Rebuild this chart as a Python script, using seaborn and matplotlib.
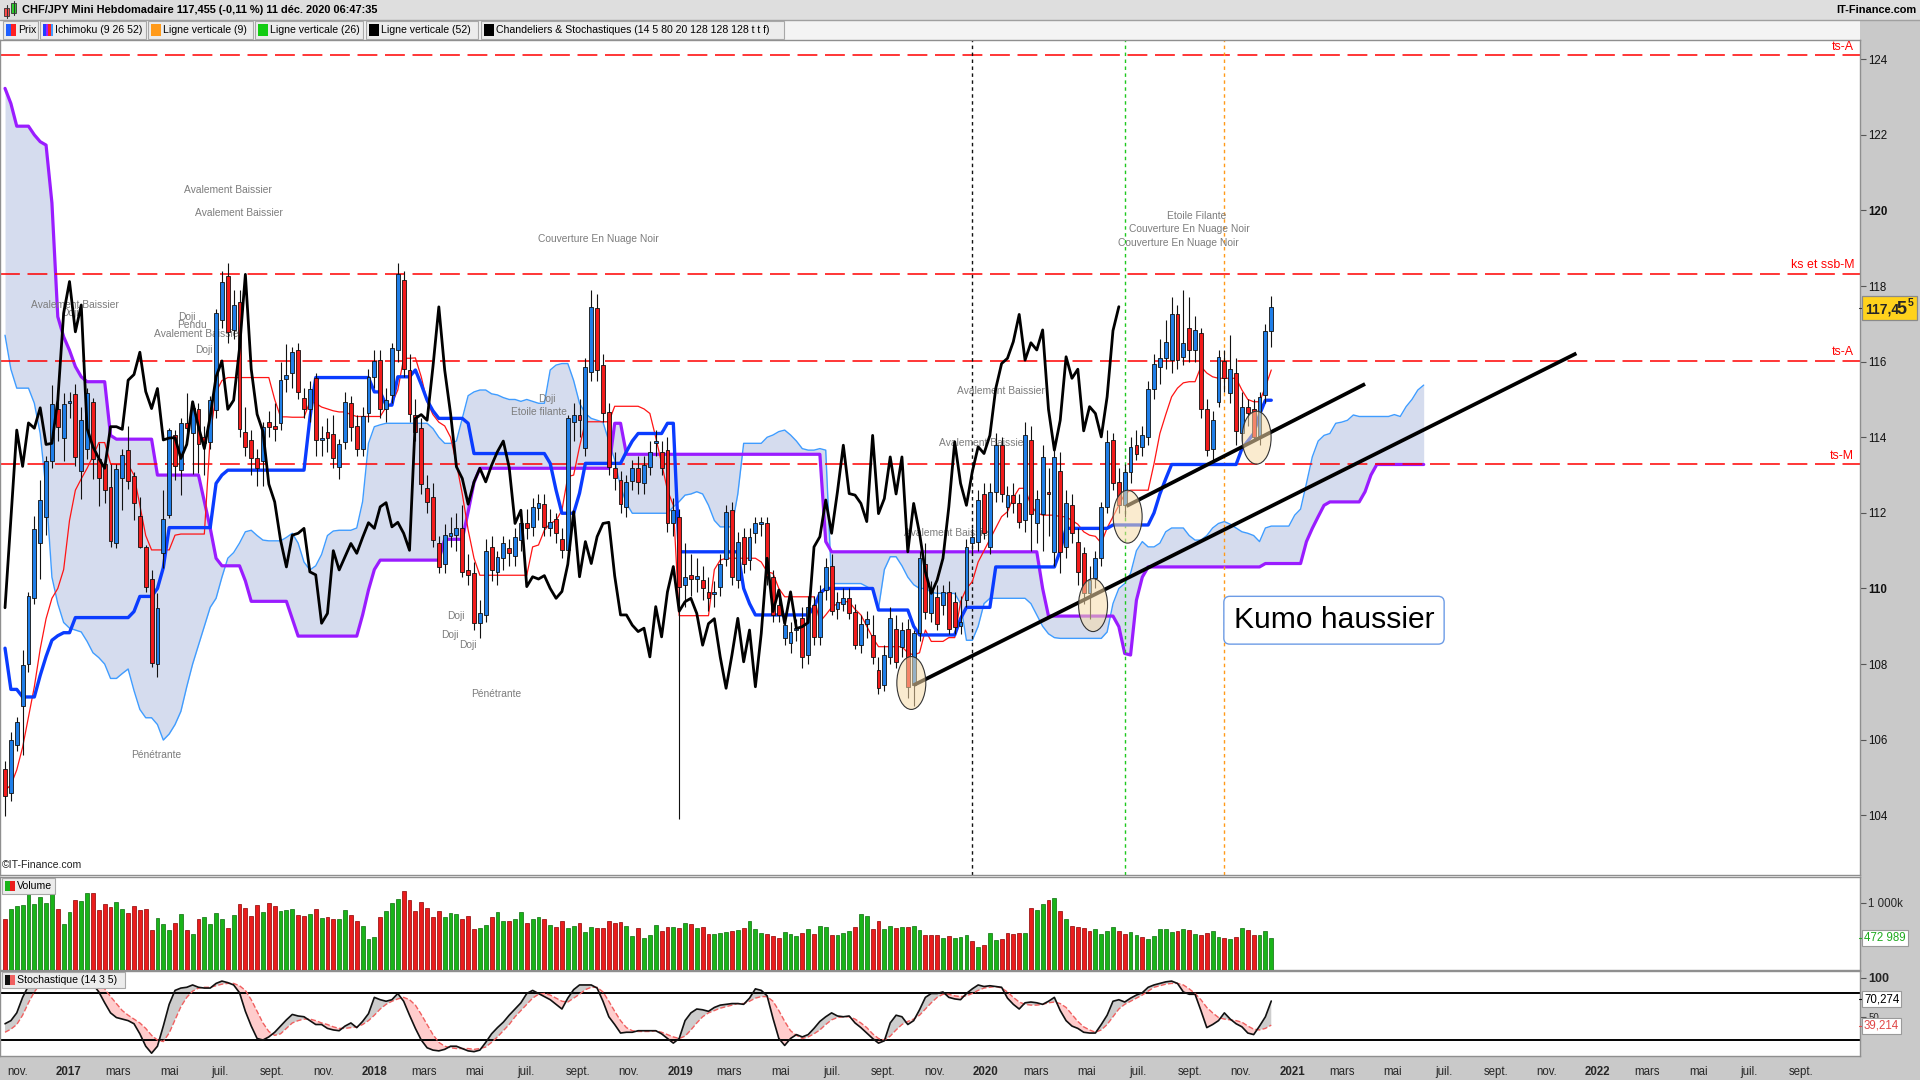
import numpy as np
import pandas as pd
import matplotlib
matplotlib.use('Agg')
import matplotlib.pyplot as plt
import matplotlib.dates as mdates
from matplotlib.patches import Rectangle, Ellipse
from matplotlib.lines import Line2D
import seaborn as sns

# ---------------- DATA (weekly CHF/JPY) ----------------
FIRST_WEEK = '2016-10-17'

opens = [
105.23, 104.58, 105.87, 106.88, 107.99, 109.74, 111.21, 111.89, 113.37, 114.74,
113.99, 114.92, 115.14, 113.10, 113.69, 114.94, 113.43, 113.28, 112.68, 111.21,
112.93, 113.66, 112.97, 111.91, 111.10, 110.24, 107.99, 110.95, 111.94, 114.07,
113.14, 114.37, 114.12, 114.74, 114.00, 113.88, 114.72, 117.10, 118.27, 116.83,
117.57, 114.15, 113.93, 113.44, 113.36, 114.41, 114.30, 114.37, 115.53, 115.69,
116.31, 115.03, 114.74, 115.56, 113.93, 114.13, 114.08, 113.22, 113.88, 114.91,
114.30, 113.70, 114.65, 115.60, 116.04, 114.76, 115.12, 116.32, 118.16, 115.78,
114.59, 114.24, 112.65, 112.42, 111.21, 110.66, 111.39, 111.41, 111.59, 110.49,
110.42, 109.08, 109.30, 111.10, 110.44, 110.80, 111.08, 110.86, 111.28, 111.74,
111.63, 112.14, 112.23, 111.60, 111.85, 111.32, 111.01, 114.40, 114.60, 113.71,
115.73, 117.43, 115.91, 114.68, 113.18, 112.87, 112.16, 112.85, 113.18, 112.78,
113.22, 113.84, 113.62, 113.66, 111.72, 111.90, 110.09, 110.35, 110.25, 110.22,
109.90, 109.85, 110.04, 110.77, 112.07, 110.22, 111.37, 110.75, 111.46, 111.70,
111.72, 110.31, 109.56, 108.68, 108.55, 108.90, 109.21, 108.24, 109.56, 108.72,
109.96, 110.60, 109.45, 109.60, 109.74, 109.38, 108.50, 109.07, 108.77, 107.84,
107.44, 108.19, 108.94, 108.46, 108.94, 107.44, 108.81, 110.66, 109.34, 109.78,
109.56, 109.91, 109.65, 109.00, 109.69, 111.19, 111.24, 112.51, 111.10, 112.56,
113.79, 112.16, 112.47, 112.25, 111.81, 113.94, 111.72, 111.98, 112.55, 110.97,
113.10, 111.10, 112.20, 111.24, 110.93, 109.87, 110.27, 110.80, 112.16, 113.94,
112.82, 112.20, 113.09, 113.79, 113.75, 114.01, 115.29, 115.87, 116.09, 116.04,
117.25, 116.13, 116.88, 116.31, 116.77, 114.76, 113.70, 114.94, 116.03, 115.16,
115.71, 114.10, 114.81, 114.76, 114.01, 115.12, 116.82]

highs = [
105.44, 106.20, 106.60, 108.37, 109.90, 111.92, 112.88, 113.50, 115.39, 115.21,
115.16, 115.21, 115.41, 114.80, 115.31, 115.05, 113.84, 113.43, 113.28, 113.28,
113.69, 114.31, 113.08, 112.42, 111.15, 110.49, 109.89, 112.60, 114.24, 114.19,
114.50, 115.16, 114.95, 114.90, 114.30, 115.10, 117.40, 118.40, 118.60, 117.90,
117.90, 114.80, 114.20, 113.70, 114.40, 114.70, 114.90, 116.00, 116.48, 116.40,
116.50, 115.30, 115.50, 115.70, 114.30, 114.50, 114.60, 113.95, 115.20, 115.10,
114.60, 114.80, 115.80, 116.30, 116.30, 115.30, 116.50, 118.60, 118.40, 116.20,
115.00, 114.50, 113.00, 112.80, 111.40, 111.70, 111.90, 112.00, 112.20, 110.90,
110.70, 109.70, 111.30, 111.40, 111.00, 111.40, 111.30, 111.60, 112.00, 112.10,
112.40, 112.50, 112.50, 112.10, 112.00, 111.60, 114.60, 114.90, 115.00, 116.10,
117.90, 117.80, 116.20, 114.90, 113.60, 113.10, 113.00, 113.40, 113.50, 113.50,
113.90, 114.20, 113.90, 114.00, 112.40, 112.10, 111.20, 110.90, 110.80, 110.60,
110.30, 110.20, 110.90, 112.20, 112.30, 111.50, 111.60, 111.60, 111.90, 111.90,
111.90, 110.50, 109.80, 109.30, 109.10, 109.20, 109.50, 109.80, 109.80, 110.10,
110.80, 110.90, 109.90, 110.00, 110.00, 109.60, 109.30, 109.40, 109.30, 108.20,
108.50, 109.50, 109.30, 109.10, 109.20, 108.90, 111.00, 111.20, 110.20, 110.10,
110.10, 110.20, 109.90, 109.80, 111.30, 111.60, 112.60, 112.80, 112.80, 114.10,
114.00, 112.70, 112.80, 112.50, 114.40, 114.30, 112.60, 113.80, 113.20, 113.70,
113.60, 112.60, 112.50, 111.60, 111.10, 110.60, 111.00, 112.30, 114.20, 114.10,
113.20, 113.30, 114.00, 114.20, 114.30, 115.50, 116.20, 116.60, 117.10, 117.70,
117.50, 117.90, 117.70, 117.20, 116.90, 115.00, 114.70, 116.30, 116.30, 116.70,
116.10, 115.20, 115.00, 115.00, 115.20, 117.00, 117.75]

lows = [
103.99, 104.37, 105.70, 105.59, 107.80, 109.60, 110.24, 111.41, 113.18, 113.89,
113.38, 114.50, 113.23, 112.37, 113.43, 112.90, 112.17, 112.27, 111.10, 111.08,
112.07, 112.62, 111.81, 111.06, 109.90, 107.92, 107.66, 110.55, 111.87, 112.88,
112.47, 113.90, 113.03, 113.06, 113.00, 113.70, 114.50, 116.90, 116.50, 116.60,
114.00, 113.50, 113.00, 112.70, 112.70, 114.00, 113.90, 114.20, 115.20, 115.30,
115.00, 114.50, 114.40, 113.50, 113.50, 113.60, 113.20, 112.90, 113.70, 113.90,
113.50, 113.50, 114.40, 115.30, 114.50, 114.40, 114.90, 116.00, 115.60, 114.40,
113.90, 112.50, 112.00, 111.10, 110.40, 110.40, 111.10, 111.00, 110.30, 110.10,
108.90, 108.70, 109.10, 110.20, 110.10, 110.50, 110.60, 110.60, 111.00, 111.30,
111.40, 111.80, 111.40, 111.40, 111.20, 110.80, 110.90, 113.90, 114.00, 113.50,
115.50, 115.50, 114.40, 113.00, 112.60, 112.00, 111.90, 112.60, 112.50, 112.50,
113.00, 113.50, 113.00, 111.50, 111.40, 103.90, 109.50, 109.80, 109.90, 109.70,
109.40, 109.50, 109.80, 110.60, 110.10, 110.00, 110.40, 110.50, 111.20, 111.40,
110.10, 109.10, 109.10, 108.50, 108.30, 108.60, 107.90, 108.00, 108.50, 108.50,
109.70, 109.30, 109.20, 109.40, 109.20, 108.40, 108.30, 108.70, 108.00, 107.20,
107.30, 108.00, 107.90, 108.20, 107.10, 106.90, 108.60, 109.20, 109.10, 108.90,
109.30, 108.80, 108.80, 108.80, 109.50, 110.90, 111.00, 111.30, 110.90, 112.30,
112.30, 111.90, 112.00, 111.60, 111.50, 111.00, 111.20, 111.00, 111.40, 110.60,
110.40, 110.80, 111.20, 110.10, 109.60, 109.20, 110.00, 110.60, 112.00, 112.60,
112.00, 111.90, 112.80, 113.40, 113.50, 113.80, 115.00, 115.40, 115.80, 115.70,
115.80, 115.90, 116.00, 116.00, 114.50, 113.50, 113.40, 114.80, 115.20, 114.90,
113.80, 113.80, 114.30, 113.90, 113.80, 114.90, 116.40]

closes = [
104.52, 105.99, 106.48, 107.97, 109.79, 111.58, 112.33, 113.37, 114.89, 114.27,
114.89, 114.95, 113.48, 114.45, 115.16, 113.43, 112.93, 112.60, 111.26, 113.15,
113.52, 112.84, 112.27, 111.10, 110.04, 108.02, 109.49, 111.85, 114.19, 113.23,
114.38, 114.24, 114.78, 113.81, 113.84, 114.98, 117.28, 118.12, 116.79, 117.50,
114.23, 113.75, 113.44, 113.18, 114.28, 114.28, 114.21, 115.51, 115.66, 116.25,
115.21, 114.76, 115.29, 113.93, 113.98, 113.99, 113.44, 113.81, 114.94, 114.28,
113.70, 114.55, 115.60, 116.02, 114.74, 114.98, 116.35, 118.31, 115.80, 114.61,
114.15, 112.76, 112.29, 111.28, 110.57, 111.41, 111.46, 111.59, 110.44, 110.36,
109.08, 109.34, 111.00, 110.49, 110.84, 111.19, 110.93, 111.35, 111.74, 111.59,
112.16, 112.27, 111.63, 111.75, 111.46, 111.01, 114.50, 114.60, 114.45, 115.87,
117.45, 115.78, 114.63, 113.22, 112.91, 112.23, 112.82, 113.18, 112.82, 113.26,
113.62, 113.90, 113.20, 111.72, 112.07, 110.05, 110.31, 110.25, 110.34, 110.00,
109.74, 109.92, 110.64, 112.03, 110.31, 111.24, 110.66, 111.37, 111.72, 111.75,
110.33, 109.30, 109.30, 109.03, 108.86, 108.95, 108.19, 109.52, 108.72, 109.91,
110.58, 109.40, 109.65, 109.74, 109.34, 108.50, 109.07, 109.20, 108.19, 107.36,
108.24, 109.21, 108.06, 108.90, 107.40, 108.81, 110.80, 109.39, 109.96, 109.07,
109.91, 108.94, 108.99, 109.10, 111.10, 111.37, 112.34, 111.46, 112.56, 113.79,
112.51, 112.47, 112.25, 111.77, 114.05, 111.98, 112.38, 113.48, 112.50, 113.48,
110.97, 112.25, 111.46, 110.44, 109.87, 110.22, 110.80, 112.16, 113.88, 112.78,
112.20, 113.09, 113.75, 113.57, 114.05, 115.29, 115.95, 116.09, 116.53, 117.25,
116.04, 116.50, 116.31, 116.84, 114.74, 113.66, 114.45, 116.13, 115.56, 115.80,
114.17, 114.81, 114.63, 114.01, 115.07, 116.82, 117.455]

tenkan = ([104.66, 104.8, 105.2, 105.8, 106.6, 107.4, 108.4, 109.2, 109.74, 110.0,
           110.5, 111.8, 112.6, 112.9, 113.18, 113.5, 113.86, 113.86, 113.3, 113.28,
           113.28, 113.28, 113.0, 112.2, 111.4, 111.02, 111.02, 111.02, 111.02, 111.41,
           111.44, 111.44, 111.44, 111.44, 111.44, 114.0, 115.2, 115.5]
          + [115.58] * 8
          + [115.0, 114.54, 114.54, 114.53, 114.53, 114.53, 114.94, 114.9, 114.8, 114.75,
             114.7, 114.67, 114.67, 114.6]
          + [114.55] * 5
          + [114.8, 114.9, 115.25, 116.09, 116.09, 116.1, 115.6, 114.94, 114.6, 114.4,
             114.3, 114.0, 113.31, 112.5, 111.55, 110.8]
          + [110.35] * 9
          + [111.1, 111.15, 111.54, 111.72, 111.8, 112.07, 112.96, 113.0, 113.75]
          + [114.41] * 5 + [114.82] * 5
          + [114.75, 114.63, 114.0, 113.31, 112.6, 112.2]
          + [109.28] * 6 + [110.5, 110.75] + [110.8] * 6
          + [110.7, 110.44, 110.4, 110.0] + [109.78] * 6
          + [109.12, 109.3, 109.5, 109.6, 109.65, 109.65, 109.45, 109.3, 109.0, 108.7]
          + [108.46] * 5
          + [108.3, 108.24, 108.3, 108.9, 108.6, 108.6, 108.6, 108.7, 108.7, 109.65,
             110.0, 110.18, 110.7, 111.0, 111.3, 111.6, 111.9, 112.03, 112.4, 112.65,
             112.65, 112.2, 112.0, 111.94, 111.94, 111.94, 111.9, 111.9, 111.8, 111.7,
             111.5, 111.41, 111.38, 111.2, 111.6, 111.9, 112.2, 112.5, 112.6, 112.6,
             112.6, 112.6, 113.3, 114.1, 114.6, 115.07, 115.3, 115.44, 115.47, 115.47,
             115.87, 115.7, 115.6, 115.56, 115.56, 115.56, 115.56, 115.25, 115.0, 114.94,
             114.94, 115.33, 115.78])

kijun = ([108.42, 107.33, 107.33, 107.13, 107.13, 107.13, 107.7, 108.2, 108.63, 108.75,
          108.83, 108.83]
         + [109.23] * 10 + [109.39] + [109.79] * 3 + [110.0, 110.55]
         + [111.61] * 8 + [112.78, 113.0] + [113.13] * 14 + [114.5]
         + [115.58] * 10 + [115.2, 115.2, 114.85, 114.85] + [115.6] * 3
         + [115.78, 115.4, 114.98, 114.7] + [114.5] * 5 + [114.37]
         + [113.57] * 13 + [113.31, 112.6] + [111.99] * 3 + [112.52]
         + [113.31] * 7 + [113.62, 113.9] + [114.1] * 5 + [114.37, 114.37]
         + [110.97] * 11 + [110.0, 109.6] + [109.3] * 10 + [109.5, 109.87]
         + [110.0] * 9 + [109.43] * 6 + [109.0] + [108.77] * 7 + [109.2]
         + [109.5] * 5 + [110.57] * 11 + [111.0] + [111.59] * 8 + [111.68] * 7
         + [112.0, 112.5, 112.9] + [113.28] * 12
         + [113.7, 113.9, 114.1, 114.6, 114.98, 114.98])

senkou_a = ([116.7, 115.8, 115.3, 115.3, 115.3, 114.9, 114.1, 112.6, 110.3, 109.6,
             109.1, 108.95, 108.9, 108.85, 108.6, 108.3, 108.17, 108.0, 107.62, 107.62,
             107.75, 107.87, 107.3, 106.8, 106.58, 106.58, 106.4, 105.99, 106.15, 106.4,
             106.75, 107.4, 108.0, 108.5, 109.0, 109.5, 109.74, 110.3, 110.8, 110.95,
             111.2, 111.5, 111.54, 111.4, 111.28, 111.26, 111.26, 111.26, 111.35, 111.46,
             111.2, 110.7, 110.49, 110.6, 110.9, 111.4, 111.52, 111.54, 111.54, 111.54,
             111.6, 112.3, 113.84, 114.28, 114.33]
            + [114.37] * 8
            + [114.23, 114.0, 113.84, 113.84, 113.9, 114.5, 115.1, 115.2, 115.25, 115.25,
               115.15, 115.12, 115.05, 115.0, 115.0, 114.95, 115.0, 114.95, 114.9, 114.9,
               115.78, 115.91, 115.95, 115.95, 115.5, 114.9, 114.63, 114.5, 114.45, 114.4,
               113.9, 113.4, 112.69, 112.25]
            + [111.99] * 7
            + [112.16, 112.3, 112.47, 112.5, 112.56, 112.5, 112.2, 111.8, 111.63, 111.63,
               111.63, 112.5, 113.84, 113.84, 113.84, 113.84, 114.0, 114.06, 114.15, 114.19,
               114.06, 113.9, 113.7, 113.66, 113.66, 113.7, 113.66]
            + [110.13] * 6
            + [110.05, 109.96, 109.47, 110.5, 110.84, 110.84, 110.6, 110.3, 110.1, 110.0,
               110.0, 109.9]
            + [109.87] * 4 + [109.6, 108.63, 108.63, 109.0, 109.6] + [109.74] * 7
            + [109.6, 109.3, 109.0, 108.8, 108.7] + [108.68] * 8
            + [108.85, 109.6, 110.0, 110.13, 110.4, 111.0, 111.24, 111.1, 111.1, 111.2,
               111.5, 111.6, 111.6, 111.6, 111.4, 111.28, 111.28, 111.4, 111.6, 111.72,
               111.77, 111.7, 111.6, 111.5, 111.46, 111.4, 111.24, 111.6, 111.65, 111.65,
               111.65, 111.65, 111.94, 112.1, 112.78, 113.48, 113.9, 114.05, 114.1, 114.37,
               114.4, 114.45, 114.59]
            + [114.55] * 6 + [114.6, 114.55, 114.81, 115.0, 115.25, 115.38])

senkou_b = ([123.23, 122.83, 122.23, 122.23, 122.23, 122.0, 121.82, 121.73, 120.2, 117.19,
             116.66, 116.3, 115.87, 115.6, 115.47, 115.47, 115.47, 115.47, 114.05]
            + [113.95] * 7 + [113.0] * 8 + [112.3, 111.6, 110.8] + [110.6] * 4 + [110.2]
            + [109.66] * 7 + [109.2] + [108.74] * 11 + [109.3, 109.96, 110.5]
            + [110.75] * 11 + [111.3] * 4 + [112.03, 112.8] + [113.18] * 23
            + [114.37, 114.37] + [113.55] * 34 + [111.24] + [110.97] * 36 + [110.0]
            + [109.27] * 12 + [108.99, 108.28, 108.24, 109.69, 110.3] + [110.57] * 20
            + [110.66] * 7 + [111.24, 111.59, 111.9, 112.2] + [112.29] * 6
            + [112.56, 113.0] + [113.28] * 9)

volume_k = [
756, 905, 955, 970, 1129, 985, 1085, 1005, 1129, 905,
687, 861, 1045, 1030, 1144, 1144, 896, 985, 945, 1010,
910, 856, 955, 896, 910, 597, 771, 687, 597, 706,
836, 597, 537, 761, 786, 687, 846, 761, 622, 821,
985, 930, 806, 970, 861, 995, 955, 881, 896, 905,
821, 806, 836, 905, 771, 786, 756, 756, 896, 821,
731, 657, 463, 488, 786, 881, 995, 1060, 1179, 1045,
881, 1010, 920, 796, 881, 796, 846, 836, 761, 806,
612, 622, 672, 786, 861, 731, 731, 761, 861, 706,
761, 786, 761, 672, 637, 731, 627, 657, 706, 572,
637, 622, 622, 731, 706, 711, 657, 507, 622, 473,
522, 672, 587, 647, 637, 622, 706, 687, 622,
637, 537, 537, 552, 572, 582, 597, 622, 731, 612,
547, 537, 507, 473, 572, 537, 507, 547, 607, 537,
657, 637, 522, 522, 552, 582, 637, 836, 806, 612,
731, 612, 657, 632, 637, 637, 657, 597, 522, 522,
522, 483, 507, 483, 488, 522, 433, 348, 373, 552,
448, 463, 552, 537, 552, 552, 920, 896, 985, 1045,
1070, 881, 756, 657, 637, 622, 582, 607, 537, 582,
637, 582, 537, 567, 522, 488, 463, 507, 612, 612,
572, 582, 612, 597, 537, 522, 557, 582, 497, 483,
463, 497, 622, 597, 522, 522, 582, 473]

volume_dir = ("rggggggggr" "ggrggrrrrg" "grrrrrgggr" "grgrggggrg" "rrrrgrrggg"
              "rrgrgrrggr" "rgggrgggrr" "rrrrrgggrr" "rggrggrggr" "ggrgrrggrg"
              "grrrrrggrg" "ggrrgrgrg"
              "rrgggrgrgg" "grrrgggrgr" "ggrgggrggr" "rggrgrggrr" "rgrgggrgrg"
              "grrrrgrggr" "grgrrrrggg" "grrggrgggg" "grgrgrrggr" "grgrrggg")

stoch_k = [
41, 45, 55, 75, 90, 96, 98, 98, 99, 97,
98, 98, 95, 95, 96, 92, 82, 68, 55, 49,
47, 45, 41, 28, 12, 3, 12, 38, 66, 84,
87, 88, 91, 88, 87, 87, 93, 96, 94, 91,
81, 57, 38, 22, 20, 24, 30, 38, 46, 53,
51, 50, 45, 40, 40, 35, 33, 32, 38, 42,
36, 44, 54, 75, 72, 70, 72, 80, 70, 52,
35, 20, 10, 7, 6, 8, 12, 12, 9, 6,
5, 7, 17, 28, 36, 43, 52, 60, 68, 80,
84, 80, 76, 72, 66, 60, 74, 85, 91, 91,
91, 87, 70, 50, 40, 29, 30, 30, 32, 32,
32, 32, 28, 22, 16, 22, 45, 55, 60, 59,
57, 62, 65, 66, 67, 67, 66, 74, 86, 84,
77, 48, 22, 13, 22, 27, 24, 27, 35, 44,
50, 55, 51, 50, 51, 42, 36, 29, 22, 16,
19, 42, 52, 50, 40, 45, 59, 75, 80, 80,
82, 75, 73, 72, 80, 86, 91, 89, 90, 89,
88, 74, 66, 60, 68, 69, 68, 66, 70, 75,
58, 45, 38, 35, 30, 29, 29, 40, 52, 70,
72, 69, 74, 78, 81, 88, 91, 93, 95, 96,
93, 82, 79, 79, 58, 36, 40, 45, 55, 47,
41, 37, 29, 27, 38, 50, 70.27]

stoch_d = [
30, 34, 40, 52, 68, 82, 92, 96, 97, 97,
97, 97, 97, 96, 96, 96, 93, 86, 76, 67,
58, 52, 47, 42, 35, 26, 20, 18, 29, 46,
63, 75, 83, 87, 88, 88, 90, 92, 93, 93,
90, 84, 72, 57, 42, 31, 26, 28, 35, 42,
45, 47, 47, 45, 42, 40, 37, 35, 35, 36,
37, 40, 45, 52, 60, 66, 70, 73, 75, 72,
65, 53, 40, 27, 17, 12, 10, 9, 9, 9,
8, 9, 11, 17, 24, 32, 40, 50, 58, 66,
74, 79, 80, 78, 74, 70, 69, 74, 79, 85,
88, 88, 82, 70, 57, 45, 36, 32, 31, 31,
31, 32, 30, 27, 24, 22, 25, 33, 42, 50,
55, 58, 61, 63, 65, 67, 67, 70, 74, 76,
76, 70, 58, 44, 32, 26, 22, 24, 28, 33,
40, 46, 49, 50, 50, 47, 42, 36, 28, 22,
20, 25, 33, 40, 44, 47, 52, 60, 68, 75,
79, 79, 77, 76, 77, 80, 84, 87, 88, 89,
87, 82, 75, 69, 66, 65, 65, 66, 68, 69,
67, 62, 53, 44, 37, 33, 30, 33, 40, 50,
60, 66, 70, 74, 78, 83, 88, 90, 92, 93,
93, 91, 86, 80, 72, 62, 55, 49, 47, 46,
45, 43, 38, 34, 33, 35, 39.21]

# horizontal reference levels (label, price)
h_levels = [('ts-A', 124.1), ('ks et ssb-M', 118.33), ('ts-A', 116.03), ('ts-M', 113.28)]
# vertical lines: week index of the candle, colour
v_lines = [(165, '#111111'), (191, '#1ec81e'), (208, '#ff9a1a')]
# trend lines: (week index, price) endpoints
trend_lines = [[(154.97, 107.44), (268.05, 116.22)],
               [(191.3, 112.18), (232.0, 115.41)]]
# highlighted lows (week index, price)
ellipses = [(154.6, 107.50), (185.6, 109.56), (191.5, 111.90), (213.5, 113.99)]
# candlestick pattern labels (text, week index, price)
patterns = [
    ('Avalement Baissier', 38.0, 120.54), ('Avalement Baissier', 39.9, 119.93),
    ('Couverture En Nuage Noir', 101.2, 119.24), ('Avalement Baissier', 11.9, 117.49),
    ('Doji', 11.1, 117.28), ('Doji', 31.0, 117.17), ('Pendu', 31.9, 116.98),
    ('Avalement Baissier', 32.9, 116.72), ('Doji', 33.9, 116.32),
    ('Etoile filante', 91.1, 114.66), ('Doji', 92.4, 115.02),
    ('Avalement Baissier', 169.9, 115.22), ('Avalement Baissier', 166.8, 113.84),
    ('Avalement Baissier', 160.9, 111.46),
    ('Couverture En Nuage Noir', 202.0, 119.50), ('Etoile Filante', 203.2, 119.86),
    ('Couverture En Nuage Noir', 200.1, 119.13),
    ('Doji', 76.9, 109.27), ('Doji', 75.9, 108.77), ('Doji', 79.0, 108.50),
    ('Pénétrante', 83.8, 107.20), ('Pénétrante', 25.8, 105.60)]
kumo_label = ('Kumo haussier', 226.7, 109.16)
last_volume_label = '472 989'
stoch_labels = ('70,274', '39,214')

assert len(opens) == len(highs) == len(lows) == len(closes) == 217
assert len(tenkan) == 217 and len(kijun) == 217
assert len(senkou_a) == 243 and len(senkou_b) == 243
assert len(volume_k) == 217 and len(volume_dir) == 217
assert len(stoch_k) == 217 and len(stoch_d) == 217

# ---------------- STYLE ----------------
sns.set_theme(style='white')
plt.rcParams['font.family'] = ['Liberation Sans', 'DejaVu Sans']
plt.rcParams['axes.linewidth'] = 1.0

W, H = 1920, 1080
fig = plt.figure(figsize=(19.2, 10.8), dpi=100)
fig.patch.set_facecolor('white')


def FX(px):
    return px / W


def FY(py):
    return 1 - py / H


GRAY = '#c9c9c9'
SPINE = '#8f8f8f'

# chrome backgrounds
fig.add_artist(Rectangle((FX(1860), 0), FX(60), FY(20), transform=fig.transFigure,
                         fc=GRAY, ec='none', zorder=0))
fig.add_artist(Rectangle((0, 0), 1, 24 / H, transform=fig.transFigure,
                         fc=GRAY, ec='none', zorder=0))
fig.add_artist(Rectangle((0, FY(20)), 1, 20 / H, transform=fig.transFigure,
                         fc='#dedede', ec='none', zorder=0))
fig.add_artist(Rectangle((0, FY(40)), FX(1860), 20 / H, transform=fig.transFigure,
                         fc='#f4f4f4', ec='none', zorder=0))
fig.add_artist(Line2D([0, 1], [FY(20), FY(20)], transform=fig.transFigure, color='#a0a0a0', lw=1))

# axes
ax = fig.add_axes([0, FY(875), FX(1860), (875 - 40) / H])
axv = fig.add_axes([0, FY(970), FX(1860), (970 - 877) / H], sharex=ax)
axs = fig.add_axes([0, FY(1056), FX(1860), (1056 - 971) / H], sharex=ax)
for a in (ax, axv, axs):
    a.set_facecolor('white')
    for s in a.spines.values():
        s.set_color(SPINE)
        s.set_linewidth(1.0)

dates = pd.date_range(FIRST_WEEK, periods=len(closes), freq='7D')
dates_ext = pd.date_range(FIRST_WEEK, periods=len(senkou_a), freq='7D')
x = mdates.date2num(dates.values)
xe = mdates.date2num(dates_ext.values)
x0 = x[0]


def wx(idx):
    return x0 + 7.0 * np.asarray(idx, dtype=float)


o = np.array(opens); h = np.array(highs); l = np.array(lows); c = np.array(closes)

# ---------------- PRICE PANEL ----------------
ax.fill_between(xe, senkou_a, senkou_b, color='#d5dcee', lw=0, zorder=1)
sns.lineplot(x=xe, y=senkou_a, ax=ax, color='#3f9cff', linewidth=1.0, legend=False,
             sort=False, estimator=None, zorder=2)
sns.lineplot(x=xe, y=senkou_b, ax=ax, color='#9a1cff', linewidth=2.3, legend=False,
             sort=False, estimator=None, zorder=2)

for lab, lev in h_levels:
    ax.axhline(lev, color='#ff0000', lw=1.1, dashes=(13, 5), zorder=2.5)
    ax.text(0.9968, lev + 0.07, lab, transform=ax.get_yaxis_transform(), ha='right',
            va='bottom', color='#ff0000', fontsize=8.9, zorder=8)

for idx, col in v_lines:
    ax.axvline(wx(idx), color=col, lw=1.0, dashes=(2.5, 2.5), zorder=2.5)

for txt, ix, py in patterns:
    ax.text(wx(ix), py, txt, ha='center', va='center', fontsize=7.4, color='#7d7d7d', zorder=3.5)

sns.lineplot(x=x, y=tenkan, ax=ax, color='#ff1414', linewidth=0.9, legend=False,
             sort=False, estimator=None, zorder=3)
sns.lineplot(x=x, y=kijun, ax=ax, color='#0a3cff', linewidth=2.4, legend=False,
             sort=False, estimator=None, zorder=3)

# candlesticks
up = c >= o
body_lo = np.minimum(o, c)
body_h = np.maximum(np.abs(c - o), 0.04)
ax.vlines(x, l, h, color='#111111', lw=0.8, zorder=4)
ax.bar(x[up], body_h[up], bottom=body_lo[up], width=4.6, color='#1f7ee8',
       edgecolor='#111111', linewidth=0.6, zorder=4.2)
ax.bar(x[~up], body_h[~up], bottom=body_lo[~up], width=4.6, color='#f21b1b',
       edgecolor='#111111', linewidth=0.6, zorder=4.2)

# chikou span: closes plotted 26 weeks back
sns.lineplot(x=x[:-26], y=c[26:], ax=ax, color='#000000', linewidth=2.0, legend=False,
             sort=False, estimator=None, zorder=5)

for (i1, p1), (i2, p2) in trend_lines:
    ax.plot([wx(i1), wx(i2)], [p1, p2], color='#000000', lw=2.7, solid_capstyle='butt', zorder=6)

for ix, py in ellipses:
    ax.add_patch(Ellipse((wx(ix), py), width=34.6, height=1.40, fc=(0.97, 0.86, 0.66, 0.55),
                         ec='#333333', lw=0.8, zorder=6.5))

kt, kix, kpy = kumo_label
ax.text(wx(kix), kpy, kt, ha='center', va='center', fontsize=21.6, color='#000000', zorder=9,
        bbox=dict(boxstyle='round,pad=0.33,rounding_size=0.2', fc='white', ec='#6d9ce6', lw=1.0))

ax.text(0.0012, 0.0055, '©IT-Finance.com', transform=ax.transAxes, ha='left', va='bottom',
        fontsize=7.6, color='#222222', zorder=9)

ax.set_xlim(x0 - 6, x0 + 2215)
ax.set_ylim(102.42, 124.51)
ax.yaxis.tick_right()
pt = list(range(104, 125, 2))
ax.set_yticks(pt)
ax.set_yticklabels([str(v) for v in pt])
for t, v in zip(ax.get_yticklabels(), pt):
    if v % 10 == 0:
        t.set_fontweight('bold')
        t.set_fontsize(9)
ax.tick_params(axis='y', direction='out', length=4, width=0.8, color='#555555',
               labelsize=8.3, pad=2, labelcolor='#111111')
ax.tick_params(axis='x', bottom=False, labelbottom=False)
ax.set_ylabel(''); ax.set_xlabel('')

# ---------------- VOLUME PANEL ----------------
vcol = ['#19b419' if d == 'g' else '#ea1c1c' for d in volume_dir]
vedge = ['#0b6d0b' if d == 'g' else '#8c0000' for d in volume_dir]
axv.bar(x, np.array(volume_k) * 1000, width=4.6, color=vcol, edgecolor=vedge, linewidth=0.5, zorder=3)
axv.set_ylim(0, 1388000)
axv.yaxis.tick_right()
axv.set_yticks([1000000])
axv.set_yticklabels(['1 000k'])
axv.tick_params(axis='y', direction='out', length=4, width=0.8, color='#555555',
                labelsize=8.3, pad=2)
axv.tick_params(axis='x', bottom=False, labelbottom=False)

# ---------------- STOCHASTIC PANEL ----------------
K = np.array(stoch_k, dtype=float); D = np.array(stoch_d, dtype=float)
axs.fill_between(x, K, D, where=K >= D, interpolate=True, color='#cdcdcd', lw=0, zorder=1)
axs.fill_between(x, K, D, where=K < D, interpolate=True, color='#ffcccc', lw=0, zorder=1)
axs.axhline(80, color='#000000', lw=1.4, zorder=2)
axs.axhline(20, color='#000000', lw=1.4, zorder=2)
sns.lineplot(x=x, y=D, ax=axs, color='#f06060', linewidth=1.0, linestyle='--', legend=False,
             sort=False, estimator=None, zorder=3)
sns.lineplot(x=x, y=K, ax=axs, color='#111111', linewidth=1.2, legend=False,
             sort=False, estimator=None, zorder=4)
axs.set_ylim(-0.6, 109)
axs.yaxis.tick_right()
axs.set_yticks([50, 100])
axs.set_yticklabels(['50', '100'])
axs.get_yticklabels()[0].set_fontsize(7.0)
axs.get_yticklabels()[1].set_fontweight('bold')
axs.get_yticklabels()[1].set_fontsize(9)
axs.tick_params(axis='y', direction='out', length=4, width=0.8, color='#555555', pad=2)
axs.set_ylabel(''); axs.set_xlabel('')
axv.set_ylabel(''); axv.set_xlabel('')

# x axis (French month labels)
ticks = pd.date_range('2016-11-01', '2022-09-01', freq='2MS')
mnames = {3: 'mars', 5: 'mai', 7: 'juil.', 9: 'sept.', 11: 'nov.'}
tlabels = [str(t.year) if t.month == 1 else mnames[t.month] for t in ticks]
axs.set_xticks(mdates.date2num(ticks.values))
axs.set_xticklabels(tlabels)
for t, d in zip(axs.get_xticklabels(), ticks):
    if d.month == 1:
        t.set_fontweight('bold')
        t.set_fontsize(9)
axs.tick_params(axis='x', direction='out', length=4, width=0.8, color='#666666',
                labelsize=8.3, pad=3)
ax.set_xlim(x0 - 6, x0 + 2215)

# ---------------- CHROME: header, legends, value boxes ----------------
fig.add_artist(Line2D([FX(6.5)] * 2, [FY(18), FY(5)], transform=fig.transFigure, color='#333', lw=0.8))
fig.add_artist(Rectangle((FX(4), FY(16)), FX(5), 8 / H, transform=fig.transFigure,
                         fc='#ff4a4a', ec='#333', lw=0.6))
fig.add_artist(Line2D([FX(13.5)] * 2, [FY(15), FY(1)], transform=fig.transFigure, color='#333', lw=0.8))
fig.add_artist(Rectangle((FX(11), FY(13)), FX(5), 10 / H, transform=fig.transFigure,
                         fc='#2ed12e', ec='#333', lw=0.6))
fig.text(FX(22), FY(10), 'CHF/JPY Mini Hebdomadaire 117,455 (-0,11 %) 11 déc. 2020 06:47:35',
         ha='left', va='center', fontsize=7.9, fontweight='bold', color='#000000')
fig.text(FX(1916), FY(10), 'IT-Finance.com', ha='right', va='center', fontsize=7.9,
         fontweight='bold', color='#000000')


def legend_item(x0p, x1p, y0p, y1p, text, colors):
    fig.add_artist(Rectangle((FX(x0p), FY(y1p)), FX(x1p - x0p), (y1p - y0p) / H,
                             transform=fig.transFigure, fc='#ececec', ec='#a8a8a8', lw=0.8, zorder=10))
    n = len(colors)
    iw = 10.0 / n
    for k, col in enumerate(colors):
        fig.add_artist(Rectangle((FX(x0p + 3 + k * iw), FY(y1p - 3)), FX(iw), (y1p - y0p - 6) / H,
                                 transform=fig.transFigure, fc=col, ec='none', zorder=11))
    fig.text(FX(x0p + 15), FY((y0p + y1p) / 2), text, ha='left', va='center', fontsize=7.6,
             color='#000000', zorder=12)


legend_item(3, 38, 21, 39, 'Prix', ['#1f5fff', '#ff2020'])
legend_item(40, 146, 21, 39, 'Ichimoku (9 26 52)', ['#1f3fff', '#9a1cff', '#ff2020', '#3f9cff'])
legend_item(148, 253, 21, 39, 'Ligne verticale (9)', ['#ff9a1a'])
legend_item(255, 363, 21, 39, 'Ligne verticale (26)', ['#13cc13'])
legend_item(366, 478, 21, 39, 'Ligne verticale (52)', ['#000000'])
legend_item(481, 784, 21, 39, 'Chandeliers & Stochastiques (14 5 80 20 128 128 128 t t f)', ['#000000'])
legend_item(2, 55, 878, 894, 'Volume', ['#19b419', '#ea1c1c'])
legend_item(2, 125, 972, 988, 'Stochastique (14 3 5)', ['#111111', '#f06060'])

# last price box
fig.add_artist(Rectangle((FX(1862), FY(320)), FX(55), 24 / H, transform=fig.transFigure,
                         fc='#ffd21c', ec='#8a8a8a', lw=0.9, zorder=10))
fig.add_artist(Line2D([FX(1859), FX(1862)], [FY(308), FY(308)], transform=fig.transFigure,
                      color='#333', lw=0.8))
fig.text(FX(1865), FY(310), '117,4', ha='left', va='center', fontsize=10, fontweight='bold', zorder=11)
fig.text(FX(1896), FY(309.5), '5', ha='left', va='center', fontsize=13, fontweight='bold', zorder=11)
fig.text(FX(1907.5), FY(303), '5', ha='left', va='center', fontsize=7.5, fontweight='bold', zorder=11)


def value_box(ypx, text, color):
    fig.text(FX(1864), FY(ypx), text, ha='left', va='center', fontsize=8.3, color=color, zorder=11,
             bbox=dict(boxstyle='square,pad=0.18', fc='white', ec='#9a9a9a', lw=0.8))
    fig.add_artist(Line2D([FX(1859), FX(1863)], [FY(ypx), FY(ypx)], transform=fig.transFigure,
                          color=color, lw=0.8))


value_box(938, last_volume_label, '#1faa1f')
value_box(999, stoch_labels[0], '#000000')
value_box(1026, stoch_labels[1], '#e04848')

fig.savefig('out.png', dpi=100, facecolor=fig.get_facecolor())
